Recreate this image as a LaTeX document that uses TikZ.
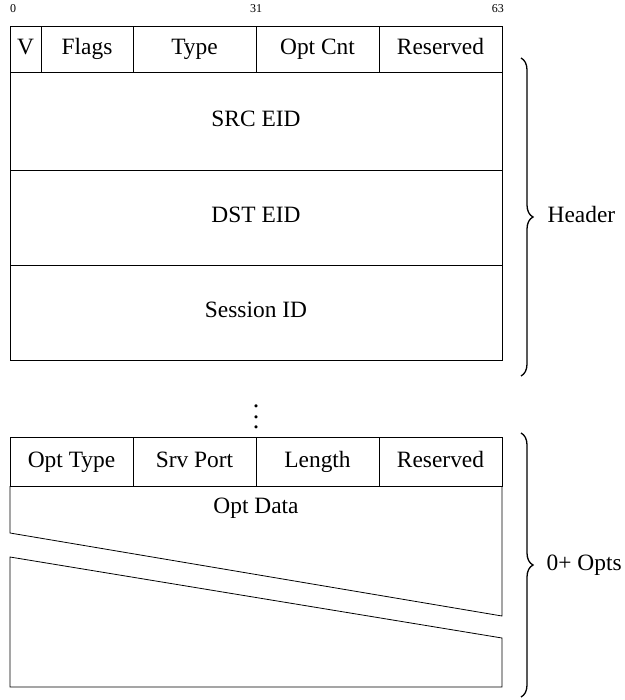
\documentclass[tikz,border=0pt]{standalone}
\usepackage{fontspec}
\setmainfont{Liberation Serif}
\usetikzlibrary{decorations.pathreplacing}
\begin{document}
\begin{tikzpicture}[x=1pt,y=-1pt,
  cell/.style={draw, line width=0.8pt, inner sep=0pt, text height=15pt, text depth=4.5pt, font=\fontsize{23.4}{26}\selectfont},
  lbl/.style={inner sep=0pt, text height=15pt, text depth=4.5pt, font=\fontsize{23.4}{26}\selectfont},
  bitnum/.style={inner sep=0pt, font=\fontsize{12}{14}\selectfont},
  brc/.style={decorate, decoration={brace, amplitude=12pt}, line width=1.3pt},
  edge/.style={line width=0.8pt}]
\useasboundingbox (0,0) rectangle (624,700);
% bit numbers
\node[bitnum, anchor=base west] (b0) at (10,13) {0};
\node[bitnum, anchor=base] (b31) at (256,13) {31};
\node[bitnum, anchor=base east] (b63) at (504,13) {63};
% header first row
\node[cell, minimum width=31pt, minimum height=46pt] (v) at (25.5,49) {V};
\node[cell, minimum width=92pt, minimum height=46pt] (flags) at (87,49) {Flags};
\node[cell, minimum width=123pt, minimum height=46pt] (type) at (194.5,49) {Type};
\node[cell, minimum width=123pt, minimum height=46pt] (optcnt) at (317.5,49) {Opt Cnt};
\node[cell, minimum width=123pt, minimum height=46pt] (res) at (440.5,49) {Reserved};
% header rows
\node[cell, minimum width=492pt, minimum height=98pt] (src) at (256,121) {SRC EID};
\node[cell, minimum width=492pt, minimum height=95pt] (dst) at (256,217.5) {DST EID};
\node[cell, minimum width=492pt, minimum height=95pt] (sess) at (256,312.5) {Session ID};
% ellipsis
\node[inner sep=0pt, font=\fontsize{26}{26}\selectfont] (dots) at (256,417) {\vbox{\baselineskip=10.8pt\lineskiplimit=-20pt\hbox{.}\hbox{.}\hbox{.}}};
% option row
\node[cell, minimum width=123pt, minimum height=49pt] (otype) at (71.5,462) {Opt Type};
\node[cell, minimum width=123pt, minimum height=49pt] (sport) at (194.5,462) {Srv Port};
\node[cell, minimum width=123pt, minimum height=49pt] (len) at (317.5,462) {Length};
\node[cell, minimum width=123pt, minimum height=49pt] (ores) at (440.5,462) {Reserved};
% opt data
\draw[edge] (10,486) -- (10,533) -- (502,616) -- (502,486);
\draw[edge] (10,557) -- (502,638) -- (502,687) -- (10,687) -- cycle;
\node[lbl] (odata) at (256,508) {Opt Data};
% braces
\draw[brc] (521,58) -- (521,376) node[midway, right=26pt, lbl] (hdr) {Header};
\draw[brc] (521,433) -- (521,697) node[midway, right=25pt, lbl] (opts) {0+ Opts};
\end{tikzpicture}
\end{document}
